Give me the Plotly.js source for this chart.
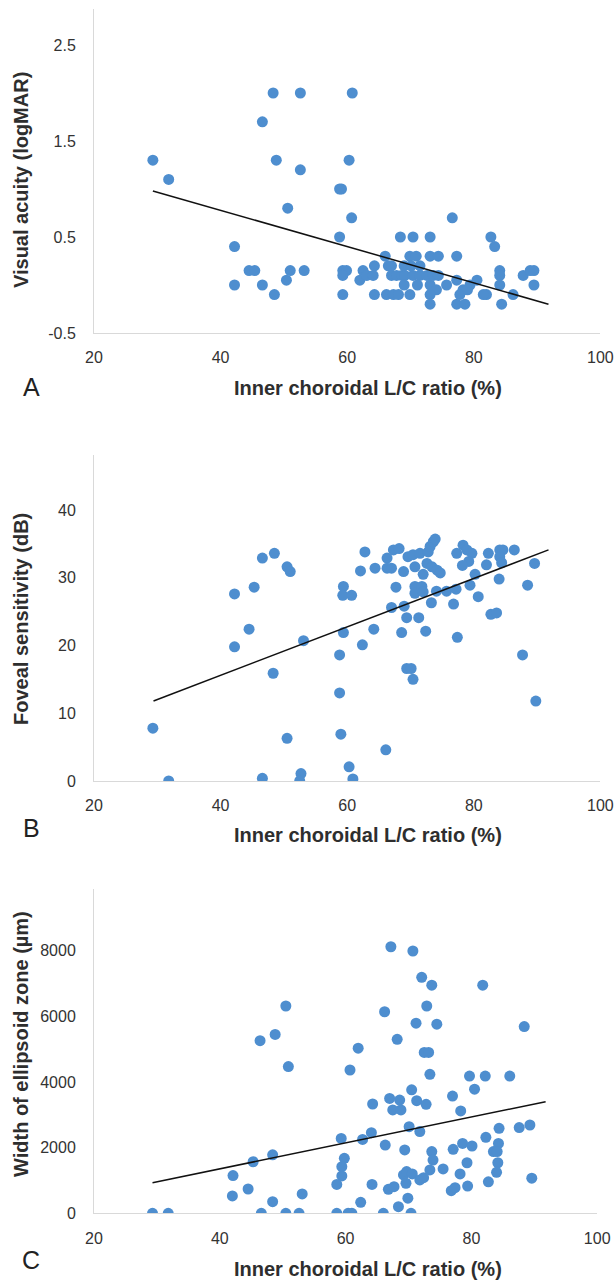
<!DOCTYPE html>
<html>
<head>
<meta charset="utf-8">
<script src="https://cdn.plot.ly/plotly-3.0.1.min.js"></script>
<style>html,body{margin:0;padding:0;background:#fff;}#chart{width:616px;height:1282px;}</style>
</head>
<body>
<div id="chart"></div>
<script>
// Panel A: Inner choroidal L/C ratio (%) vs Visual acuity (logMAR)
const lcA = [29.3,31.8,48.3,52.6,46.6,48.8,52.6,50.6,42.2,44.5,45.4,51.0,53.2,42.2,46.6,48.5,50.4,
  60.8,60.3,58.8,59.1,60.7,58.8,59.3,59.9,59.3,59.3,62.0,62.5,63.1,64.3,64.1,64.3,66.0,66.5,67.0,
  66.2,67.3,68.1,67.0,67.8,68.6,69.1,68.4,70.4,73.1,69.9,70.9,71.5,69.9,70.4,71.5,72.6,73.6,74.4,
  69.0,71.1,69.0,70.1,73.1,74.1,73.1,73.1,73.1,74.4,77.3,75.7,77.3,78.3,79.4,77.3,78.6,77.8,79.0,
  80.5,82.0,81.5,82.7,83.3,84.1,84.1,84.1,84.4,86.2,87.8,88.9,89.5,89.5,76.6];
const vaA = [1.3,1.1,2.0,2.0,1.7,1.3,1.2,0.8,0.4,0.15,0.15,0.15,0.15,0.0,0.0,-0.1,0.05,
  2.0,1.3,1.0,1.0,0.7,0.5,0.15,0.15,0.1,-0.1,0.05,0.15,0.1,0.2,0.1,-0.1,0.3,0.2,0.2,
  -0.1,-0.1,-0.1,0.1,0.1,0.1,0.1,0.5,0.5,0.5,0.3,0.3,0.2,-0.1,0.1,0.1,0.1,0.1,0.1,
  0.0,0.0,0.2,0.2,0.0,-0.05,-0.1,-0.2,0.3,0.3,0.3,0.0,0.05,-0.05,0.0,-0.2,-0.2,-0.1,-0.05,
  0.05,-0.1,-0.1,0.5,0.4,0.15,0.1,0.0,-0.2,-0.1,0.1,0.15,0.15,0.0,0.7];
const trendAx = [29.3, 91.8];
const trendAy = [0.98, -0.2];

// Panel B: Foveal sensitivity (dB)
const lcB = [29.3,31.8,42.2,45.3,46.6,48.5,50.5,51.0,44.5,42.2,53.1,48.3,50.5,46.6,52.7,52.5,
  62.8,62.1,64.4,66.3,66.3,67.0,67.3,68.2,68.9,69.6,70.4,71.5,70.7,72.0,72.8,73.1,73.6,73.9,
  72.6,73.4,74.2,74.7,77.3,78.3,78.9,79.7,79.2,78.2,80.2,79.4,80.7,82.3,82.0,84.1,84.6,84.1,
  84.4,86.4,89.6,84.0,88.5,82.7,83.6,59.4,59.3,60.7,67.7,70.7,71.8,70.7,72.0,74.1,75.7,77.2,
  73.3,76.8,67.0,69.0,69.4,71.3,64.2,68.6,72.4,59.4,77.4,62.4,58.8,87.7,69.4,70.1,70.4,58.8,
  89.8,59.0,66.1,60.3,60.9];
const fsB = [7.8,0,27.6,28.6,32.9,33.6,31.6,30.9,22.4,19.8,20.7,15.9,6.3,0.4,1.1,0,
  33.8,31.0,31.4,32.9,31.4,31.4,34.1,34.3,30.9,33.1,33.4,33.6,31.6,30.5,33.8,34.6,35.3,35.7,
  32.1,31.6,31.1,30.7,33.6,34.8,34.1,33.6,32.4,31.8,30.5,28.9,27.2,33.6,31.9,34.1,34.1,33.1,
  32.2,34.1,32.1,29.8,28.9,24.6,24.8,28.7,27.4,27.4,28.6,28.7,28.7,27.7,27.9,28.0,28.0,28.3,
  26.3,26.1,25.6,25.8,24.1,24.1,22.4,21.9,22.1,21.9,21.2,20.1,18.6,18.6,16.6,16.6,15.0,13.0,
  11.8,6.9,4.6,2.1,0.3];
const trendBx = [29.4, 91.8];
const trendBy = [11.8, 34.1];

// Panel C: Width of ellipsoid zone (µm)
const lcC = [29.3,31.8,42.1,42.0,44.5,45.3,48.4,48.4,46.6,50.5,52.6,53.1,46.4,48.8,50.5,50.9,
  67.2,70.7,72.1,73.7,81.8,72.9,66.2,71.2,74.5,88.4,68.2,62.0,72.5,73.2,60.7,73.4,79.7,82.2,86.1,
  70.5,80.5,77.0,64.3,67.0,68.6,67.5,68.8,71.3,72.8,78.3,70.1,71.8,84.4,87.6,89.3,59.3,62.7,64.1,
  66.3,69.4,73.7,73.9,77.1,78.6,80.1,82.3,84.3,83.5,84.1,84.2,84.0,79.3,59.8,59.4,59.4,58.6,64.2,
  62.4,66.8,67.7,69.2,69.7,70.6,69.6,71.8,72.4,73.4,75.5,78.2,76.8,77.4,79.4,82.7,89.6,69.9,68.4,
  58.6,60.4,61.0,66.0,70.4];
const ezC = [0,0,1150,530,740,1570,1780,355,0,0,0,590,5260,5450,6315,4470,
  8120,7990,7190,6950,6950,6315,6140,5790,5760,5690,5300,5030,4900,4900,4365,4235,4180,4180,4180,
  3760,3780,3570,3330,3500,3450,3150,3150,3430,3320,3120,2640,2490,2590,2610,2690,2280,2250,2455,
  2080,1930,1880,1620,1950,2130,2050,2315,2130,1880,1880,1540,1250,1540,1675,1420,1140,880,880,
  335,730,810,1170,1270,1200,915,1015,1085,1320,1350,1200,690,780,830,960,1070,460,200,
  0,0,0,0,0];
const trendCx = [29.3, 91.8];
const trendCy = [932, 3400];

const xTicks = [20, 40, 60, 80, 100];
const yTicksA = [-0.5, 0.5, 1.5, 2.5];
const yTicksB = [0, 10, 20, 30, 40];
const yTicksC = [0, 2000, 4000, 6000, 8000];

const xTitle = 'Inner choroidal L/C ratio (%)';
const yTitles = ['Visual acuity (logMAR)', 'Foveal sensitivity (dB)', 'Width of ellipsoid zone (µm)'];
const panelLetters = ['A', 'B', 'C'];

const H = 1282, W = 616;
const px = v => v / W;
const py = v => 1 - v / H;
const blue = '#4E8ECF';
const tickFont = {family: 'Liberation Sans, Arial, sans-serif', size: 16, color: '#333333'};
const titleFont = {family: 'Liberation Sans, Arial, sans-serif', size: 20, color: '#2e2e2e', weight: 'bold'};

function scatter(x, y, xa, ya) {
  return {x: x, y: y, type: 'scatter', mode: 'markers', xaxis: xa, yaxis: ya,
    marker: {color: blue, size: 11, line: {width: 0}}, hoverinfo: 'x+y', showlegend: false};
}
function trend(x, y, xa, ya) {
  return {x: x, y: y, type: 'scatter', mode: 'lines', xaxis: xa, yaxis: ya,
    line: {color: '#111111', width: 1.5}, hoverinfo: 'skip', showlegend: false};
}
const data = [
  scatter(lcA, vaA, 'x', 'y'), trend(trendAx, trendAy, 'x', 'y'),
  scatter(lcB, fsB, 'x2', 'y2'), trend(trendBx, trendBy, 'x2', 'y2'),
  scatter(lcC, ezC, 'x3', 'y3'), trend(trendCx, trendCy, 'x3', 'y3')
];

function xax(domain, anchor) {
  return {domain: domain, anchor: anchor, range: [20, 100], tickvals: xTicks, ticktext: xTicks.map(String),
    showgrid: false, zeroline: false, showline: true, linecolor: '#D9D9D9', linewidth: 1,
    ticks: '', ticklabelstandoff: 10, tickfont: tickFont, fixedrange: true};
}
function yax(domain, anchor, range, tv) {
  return {domain: domain, anchor: anchor, range: range, tickvals: tv, ticktext: tv.map(String),
    showgrid: false, zeroline: false, showline: true, linecolor: '#D9D9D9', linewidth: 1,
    ticks: '', ticklabelstandoff: 14, tickfont: tickFont, fixedrange: true};
}

const layout = {
  width: W, height: H,
  margin: {l: 0, r: 0, t: 0, b: 0},
  paper_bgcolor: '#ffffff', plot_bgcolor: '#ffffff',
  xaxis: xax([px(94), px(600.4)], 'y'),
  yaxis: yax([py(333), py(8.5)], 'x', [-0.5, 2.88], yTicksA),
  xaxis2: xax([px(94), px(600.4)], 'y2'),
  yaxis2: yax([py(781), py(455)], 'x2', [0, 48.1], yTicksB),
  xaxis3: xax([px(94), px(597.2)], 'y3'),
  yaxis3: yax([py(1213.3), py(889.3)], 'x3', [0, 9870], yTicksC),
  annotations: []
};
const yTitleCenters = [180, 619, 1044];
const xTitleCenters = [388, 835, 1269];
const letterCenters = [387, 828, 1260];
for (let i = 0; i < 3; i++) {
  layout.annotations.push({xref: 'paper', yref: 'paper', x: px(21), y: py(yTitleCenters[i]),
    text: yTitles[i], textangle: -90, showarrow: false, xanchor: 'center', yanchor: 'middle', font: titleFont});
  layout.annotations.push({xref: 'paper', yref: 'paper', x: px(368), y: py(xTitleCenters[i]),
    text: xTitle, showarrow: false, xanchor: 'center', yanchor: 'middle', font: titleFont});
  layout.annotations.push({xref: 'paper', yref: 'paper', x: px(31), y: py(letterCenters[i]),
    text: panelLetters[i], showarrow: false, xanchor: 'center', yanchor: 'middle',
    font: {family: 'Liberation Sans, Arial, sans-serif', size: 25, color: '#222222'}});
}
Plotly.newPlot('chart', data, layout, {displayModeBar: false, staticPlot: true});
</script>
</body>
</html>
